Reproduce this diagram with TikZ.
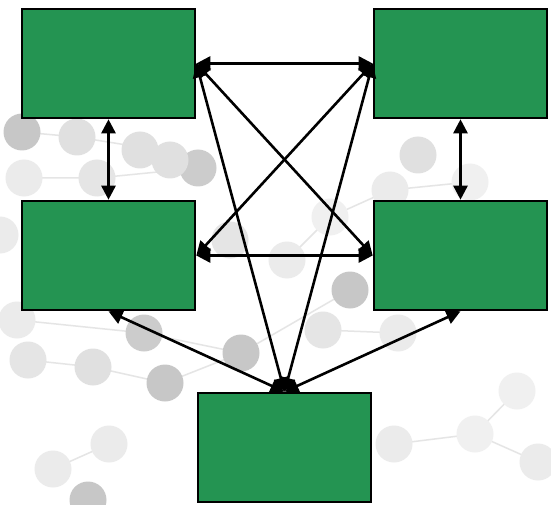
\documentclass[tikz,border=0pt]{standalone}
\usetikzlibrary{arrows.meta}
\definecolor{boxgreen}{RGB}{36,148,82}
\begin{document}
\begin{tikzpicture}[x=1pt,y=-1pt,
  box/.style={draw=black,line width=2.6pt,fill=boxgreen,minimum width=173pt,minimum height=109pt,inner sep=0pt},
  link/.style={line width=2.6pt,{Triangle[length=14pt,width=14pt]}-{Triangle[length=14pt,width=14pt]}},
  atom/.style={circle,inner sep=0pt,minimum size=37pt,fill=#1},
  atom/.default=black!20,
  bond/.style={draw=black!10,line width=1.5pt}]
\useasboundingbox (0,0) rectangle (551,505);
\fill[white] (0,0) rectangle (551,505);
% faint molecule background
\begin{scope}
\draw[bond] (22,132) -- (77,137) -- (170,152) -- (198,168);
\draw[bond] (24,178) -- (97,178) -- (198,168);
\draw[bond] (17,320) -- (144,333) -- (241,353) -- (350,290);
\draw[bond] (93,367) -- (165,383) -- (241,353);
\draw[bond] (28,360) -- (93,367);
\draw[bond] (53,469) -- (109,444);
\draw[bond] (394,444) -- (475,434) -- (517,391);
\draw[bond] (475,434) -- (538,462);
\draw[bond] (287,260) -- (330,217) -- (390,190) -- (470,182);
\draw[bond] (323,330) -- (398,333);
\node[atom=black!22] at (22,132) {};
\node[atom=black!12] at (77,137) {};
\node[atom=black!12] at (140,150) {};
\node[atom=black!20] at (198,168) {};
\node[atom=black!8] at (24,178) {};
\node[atom=black!10] at (97,178) {};
\node[atom=black!12] at (170,160) {};
\node[atom=black!8] at (0,235) {};
\node[atom=black!8] at (17,320) {};
\node[atom=black!20] at (144,333) {};
\node[atom=black!22] at (241,353) {};
\node[atom=black!12] at (93,367) {};
\node[atom=black!22] at (165,383) {};
\node[atom=black!10] at (28,360) {};
\node[atom=black!22] at (88,500) {};
\node[atom=black!8] at (109,444) {};
\node[atom=black!8] at (53,469) {};
\node[atom=black!8] at (394,444) {};
\node[atom=black!6] at (517,391) {};
\node[atom=black!8] at (538,462) {};
\node[atom=black!6] at (475,434) {};
\node[atom=black!12] at (418,155) {};
\node[atom=black!6] at (470,182) {};
\node[atom=black!8] at (390,190) {};
\node[atom=black!22] at (350,290) {};
\node[atom=black!10] at (323,330) {};
\node[atom=black!8] at (398,333) {};
\node[atom=black!6] at (330,217) {};
\node[atom=black!8] at (287,260) {};
\node[atom=black!10] at (230,240) {};
\end{scope}
% boxes
\node[box] (tl) at (108.5,63.5) {};
\node[box] (tr) at (460.5,63.5) {};
\node[box] (ml) at (108.5,255.5) {};
\node[box] (mr) at (460.5,255.5) {};
\node[box] (bt) at (284.5,447.5) {};
% connectors
\draw[link] (tl.east) -- (tr.west);
\draw[link] (ml.east) -- (mr.west);
\draw[link] (tl.south) -- (ml.north);
\draw[link] (tr.south) -- (mr.north);
\draw[link] (tl.east) -- (mr.west);
\draw[link] (tr.west) -- (ml.east);
\draw[link] (bt.north) -- (tl.east);
\draw[link] (bt.north) -- (tr.west);
\draw[link] (bt.north) -- (ml.south);
\draw[link] (bt.north) -- (mr.south);
\end{tikzpicture}
\end{document}
